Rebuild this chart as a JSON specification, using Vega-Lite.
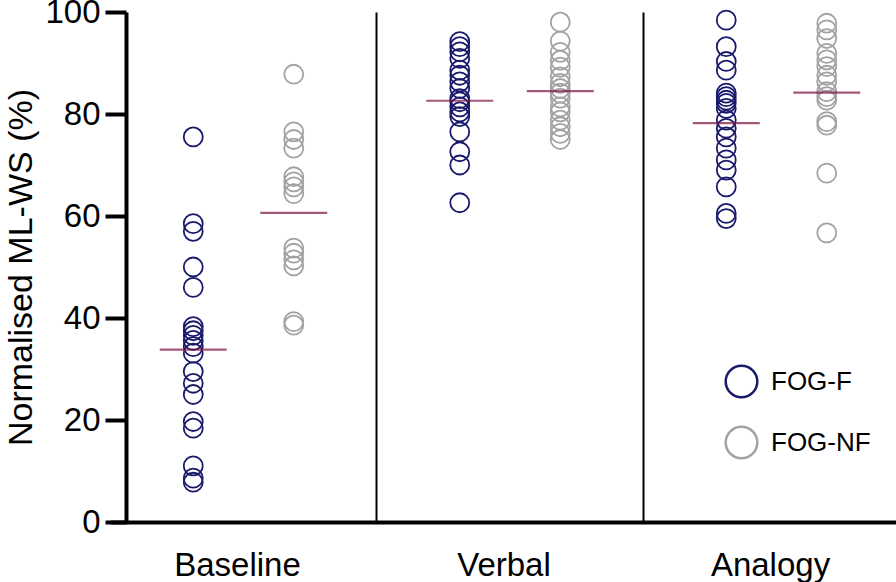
{
  "$schema": "https://vega.github.io/schema/vega-lite/v6.json",
  "width": 770,
  "height": 510,
  "autosize": {"type": "none"},
  "padding": {"left": 126, "top": 12, "right": 0, "bottom": 60},
  "config": {
    "font": "Liberation Sans",
    "view": {"stroke": null},
    "axis": {"labelColor": "black", "titleColor": "black", "titleFontWeight": "normal"}
  },
  "datasets": {
    "points": [
      {"condition": "Baseline", "group": "FOG-F", "value": 75.5},
      {"condition": "Baseline", "group": "FOG-F", "value": 58.5},
      {"condition": "Baseline", "group": "FOG-F", "value": 57.0},
      {"condition": "Baseline", "group": "FOG-F", "value": 50.0},
      {"condition": "Baseline", "group": "FOG-F", "value": 46.0},
      {"condition": "Baseline", "group": "FOG-F", "value": 38.3},
      {"condition": "Baseline", "group": "FOG-F", "value": 37.5},
      {"condition": "Baseline", "group": "FOG-F", "value": 36.6},
      {"condition": "Baseline", "group": "FOG-F", "value": 35.6},
      {"condition": "Baseline", "group": "FOG-F", "value": 34.4},
      {"condition": "Baseline", "group": "FOG-F", "value": 33.1},
      {"condition": "Baseline", "group": "FOG-F", "value": 29.5},
      {"condition": "Baseline", "group": "FOG-F", "value": 27.2},
      {"condition": "Baseline", "group": "FOG-F", "value": 25.0},
      {"condition": "Baseline", "group": "FOG-F", "value": 19.7},
      {"condition": "Baseline", "group": "FOG-F", "value": 18.4},
      {"condition": "Baseline", "group": "FOG-F", "value": 11.0},
      {"condition": "Baseline", "group": "FOG-F", "value": 8.6},
      {"condition": "Baseline", "group": "FOG-F", "value": 7.8},
      {"condition": "Baseline", "group": "FOG-NF", "value": 87.8},
      {"condition": "Baseline", "group": "FOG-NF", "value": 76.5},
      {"condition": "Baseline", "group": "FOG-NF", "value": 75.0},
      {"condition": "Baseline", "group": "FOG-NF", "value": 73.3},
      {"condition": "Baseline", "group": "FOG-NF", "value": 67.7},
      {"condition": "Baseline", "group": "FOG-NF", "value": 66.7},
      {"condition": "Baseline", "group": "FOG-NF", "value": 65.7},
      {"condition": "Baseline", "group": "FOG-NF", "value": 64.4},
      {"condition": "Baseline", "group": "FOG-NF", "value": 53.7},
      {"condition": "Baseline", "group": "FOG-NF", "value": 52.7},
      {"condition": "Baseline", "group": "FOG-NF", "value": 51.4},
      {"condition": "Baseline", "group": "FOG-NF", "value": 50.2},
      {"condition": "Baseline", "group": "FOG-NF", "value": 39.3},
      {"condition": "Baseline", "group": "FOG-NF", "value": 38.6},
      {"condition": "Verbal", "group": "FOG-F", "value": 94.2},
      {"condition": "Verbal", "group": "FOG-F", "value": 93.2},
      {"condition": "Verbal", "group": "FOG-F", "value": 92.2},
      {"condition": "Verbal", "group": "FOG-F", "value": 90.9},
      {"condition": "Verbal", "group": "FOG-F", "value": 88.6},
      {"condition": "Verbal", "group": "FOG-F", "value": 87.6},
      {"condition": "Verbal", "group": "FOG-F", "value": 86.3},
      {"condition": "Verbal", "group": "FOG-F", "value": 85.0},
      {"condition": "Verbal", "group": "FOG-F", "value": 83.0},
      {"condition": "Verbal", "group": "FOG-F", "value": 82.4},
      {"condition": "Verbal", "group": "FOG-F", "value": 81.4},
      {"condition": "Verbal", "group": "FOG-F", "value": 80.4},
      {"condition": "Verbal", "group": "FOG-F", "value": 79.5},
      {"condition": "Verbal", "group": "FOG-F", "value": 76.5},
      {"condition": "Verbal", "group": "FOG-F", "value": 72.6},
      {"condition": "Verbal", "group": "FOG-F", "value": 70.0},
      {"condition": "Verbal", "group": "FOG-F", "value": 62.6},
      {"condition": "Verbal", "group": "FOG-NF", "value": 98.0},
      {"condition": "Verbal", "group": "FOG-NF", "value": 94.3},
      {"condition": "Verbal", "group": "FOG-NF", "value": 92.1},
      {"condition": "Verbal", "group": "FOG-NF", "value": 90.5},
      {"condition": "Verbal", "group": "FOG-NF", "value": 89.2},
      {"condition": "Verbal", "group": "FOG-NF", "value": 87.3},
      {"condition": "Verbal", "group": "FOG-NF", "value": 86.0},
      {"condition": "Verbal", "group": "FOG-NF", "value": 85.0},
      {"condition": "Verbal", "group": "FOG-NF", "value": 84.1},
      {"condition": "Verbal", "group": "FOG-NF", "value": 83.1},
      {"condition": "Verbal", "group": "FOG-NF", "value": 81.4},
      {"condition": "Verbal", "group": "FOG-NF", "value": 80.4},
      {"condition": "Verbal", "group": "FOG-NF", "value": 78.8},
      {"condition": "Verbal", "group": "FOG-NF", "value": 77.5},
      {"condition": "Verbal", "group": "FOG-NF", "value": 76.2},
      {"condition": "Verbal", "group": "FOG-NF", "value": 75.0},
      {"condition": "Analogy", "group": "FOG-F", "value": 98.4},
      {"condition": "Analogy", "group": "FOG-F", "value": 93.2},
      {"condition": "Analogy", "group": "FOG-F", "value": 90.3},
      {"condition": "Analogy", "group": "FOG-F", "value": 88.6},
      {"condition": "Analogy", "group": "FOG-F", "value": 84.1},
      {"condition": "Analogy", "group": "FOG-F", "value": 83.4},
      {"condition": "Analogy", "group": "FOG-F", "value": 82.7},
      {"condition": "Analogy", "group": "FOG-F", "value": 82.1},
      {"condition": "Analogy", "group": "FOG-F", "value": 81.1},
      {"condition": "Analogy", "group": "FOG-F", "value": 78.8},
      {"condition": "Analogy", "group": "FOG-F", "value": 77.2},
      {"condition": "Analogy", "group": "FOG-F", "value": 75.5},
      {"condition": "Analogy", "group": "FOG-F", "value": 73.3},
      {"condition": "Analogy", "group": "FOG-F", "value": 71.0},
      {"condition": "Analogy", "group": "FOG-F", "value": 69.0},
      {"condition": "Analogy", "group": "FOG-F", "value": 65.7},
      {"condition": "Analogy", "group": "FOG-F", "value": 60.5},
      {"condition": "Analogy", "group": "FOG-F", "value": 59.5},
      {"condition": "Analogy", "group": "FOG-NF", "value": 97.8},
      {"condition": "Analogy", "group": "FOG-NF", "value": 96.5},
      {"condition": "Analogy", "group": "FOG-NF", "value": 94.8},
      {"condition": "Analogy", "group": "FOG-NF", "value": 91.9},
      {"condition": "Analogy", "group": "FOG-NF", "value": 90.6},
      {"condition": "Analogy", "group": "FOG-NF", "value": 89.3},
      {"condition": "Analogy", "group": "FOG-NF", "value": 87.6},
      {"condition": "Analogy", "group": "FOG-NF", "value": 86.3},
      {"condition": "Analogy", "group": "FOG-NF", "value": 84.4},
      {"condition": "Analogy", "group": "FOG-NF", "value": 83.4},
      {"condition": "Analogy", "group": "FOG-NF", "value": 82.7},
      {"condition": "Analogy", "group": "FOG-NF", "value": 78.5},
      {"condition": "Analogy", "group": "FOG-NF", "value": 77.8},
      {"condition": "Analogy", "group": "FOG-NF", "value": 68.4},
      {"condition": "Analogy", "group": "FOG-NF", "value": 56.7}
    ],
    "means": [
      {"condition": "Baseline", "group": "FOG-F", "mean": 33.8},
      {"condition": "Baseline", "group": "FOG-NF", "mean": 60.6},
      {"condition": "Verbal", "group": "FOG-F", "mean": 82.6},
      {"condition": "Verbal", "group": "FOG-NF", "mean": 84.5},
      {"condition": "Analogy", "group": "FOG-F", "mean": 78.2},
      {"condition": "Analogy", "group": "FOG-NF", "mean": 84.2}
    ]
  },
  "layer": [
    {
      "data": {"name": "points"},
      "mark": {"type": "point", "shape": "circle", "filled": false, "size": 360, "strokeWidth": 1.8, "opacity": 1},
      "encoding": {
        "x": {
          "field": "condition",
          "type": "nominal",
          "sort": ["Baseline", "Verbal", "Analogy"],
          "scale": {"type": "band", "domain": ["Baseline", "Verbal", "Analogy"], "range": [-15.75, 783.75], "paddingInner": 0, "paddingOuter": 0},
          "axis": {
            "title": null,
            "labelAngle": 0,
            "labelFontSize": 33,
            "labelPadding": 27,
            "labelOffset": -6,
            "ticks": false,
            "domainColor": "black",
            "domainWidth": 4,
            "grid": true,
            "bandPosition": 0,
            "gridWidth": 2,
            "gridColor": {"condition": {"test": "datum.value === 'Baseline'", "value": "transparent"}, "value": "black"}
          }
        },
        "xOffset": {
          "field": "group",
          "type": "nominal",
          "scale": {"type": "point", "domain": ["FOG-F", "FOG-NF"], "range": [83, 183.5], "padding": 0}
        },
        "y": {
          "field": "value",
          "type": "quantitative",
          "scale": {"domain": [0, 100], "nice": false},
          "axis": {
            "title": "Normalised ML-WS (%)",
            "titleFontSize": 34,
            "titlePadding": 6,
            "values": [0, 20, 40, 60, 80, 100],
            "labelFontSize": 33,
            "labelPadding": 5,
            "tickSize": 21,
            "tickWidth": 4,
            "tickColor": "black",
            "domainColor": "black",
            "domainWidth": 4,
            "grid": false
          }
        },
        "color": {
          "field": "group",
          "type": "nominal",
          "scale": {"domain": ["FOG-F", "FOG-NF"], "range": ["#1a1a6c", "#a2a2a2"]},
          "legend": {
            "title": null,
            "orient": "none",
            "legendX": 598,
            "legendY": 352,
            "padding": 0,
            "rowPadding": 18,
            "symbolSize": 1000,
            "symbolStrokeWidth": 2.5,
            "symbolType": "circle",
            "labelFontSize": 26,
            "labelOffset": 12,
            "labelColor": "black"
          }
        }
      }
    },
    {
      "data": {"name": "means"},
      "mark": {"type": "tick", "orient": "horizontal", "color": "#7e1241", "size": 67, "thickness": 2.2},
      "encoding": {
        "x": {"field": "condition", "type": "nominal"},
        "xOffset": {"field": "group", "type": "nominal"},
        "y": {"field": "mean", "type": "quantitative"}
      }
    }
  ]
}
